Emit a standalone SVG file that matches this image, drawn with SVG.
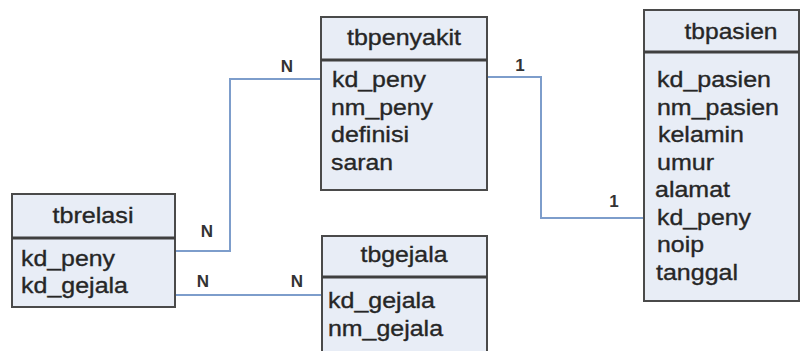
<svg xmlns="http://www.w3.org/2000/svg" width="801" height="351" viewBox="0 0 801 351">
  <style>
    .box { fill: #e8edf6; stroke: #4a4a4a; stroke-width: 2; }
    .div { stroke: #3f3f3f; stroke-width: 3; }
    .t { font-family: "Liberation Sans", Arial, sans-serif; font-size: 22.5px; fill: #262626; stroke: #262626; stroke-width: 0.35; }
    .title { text-anchor: middle; }
    .lbl { font-family: "Liberation Sans", Arial, sans-serif; font-size: 17px; font-weight: bold; fill: #333333; text-anchor: middle; }
    .link { fill: none; stroke: #7d9dcb; stroke-width: 2; }
  </style>
  <rect width="801" height="351" fill="#ffffff"/>

  <!-- relationship lines -->
  <g id="connectors">
    <polyline class="link" points="321,79 230,79 230,251 175,251"/>
    <polyline class="link" points="175,295 322,295"/>
    <polyline class="link" points="487,77 541,77 541,218 644,218"/>
    <text class="lbl" x="287" y="72">N</text>
    <text class="lbl" x="207" y="237">N</text>
    <text class="lbl" x="203" y="287">N</text>
    <text class="lbl" x="297" y="287">N</text>
    <text class="lbl" x="520" y="71">1</text>
    <text class="lbl" x="614" y="207">1</text>
  </g>

  <g id="tbpenyakit">
    <rect class="box" x="321" y="17" width="166" height="173"/>
    <line class="div" x1="321" y1="60" x2="487" y2="60"/>
    <text class="t title" x="404" y="45" textLength="114" lengthAdjust="spacingAndGlyphs">tbpenyakit</text>
    <text class="t" x="332" y="87" textLength="94" lengthAdjust="spacingAndGlyphs">kd_peny</text>
    <text class="t" x="331" y="115" textLength="102" lengthAdjust="spacingAndGlyphs">nm_peny</text>
    <text class="t" x="331" y="142" textLength="78" lengthAdjust="spacingAndGlyphs">definisi</text>
    <text class="t" x="331" y="170" textLength="62" lengthAdjust="spacingAndGlyphs">saran</text>
  </g>

  <g id="tbpasien">
    <rect class="box" x="644" y="10" width="155" height="291"/>
    <line class="div" x1="644" y1="52" x2="799" y2="52"/>
    <text class="t title" x="731" y="39" textLength="93" lengthAdjust="spacingAndGlyphs">tbpasien</text>
    <text class="t" x="657" y="87" textLength="114" lengthAdjust="spacingAndGlyphs">kd_pasien</text>
    <text class="t" x="657" y="115" textLength="122" lengthAdjust="spacingAndGlyphs">nm_pasien</text>
    <text class="t" x="658" y="142" textLength="86" lengthAdjust="spacingAndGlyphs">kelamin</text>
    <text class="t" x="657" y="170" textLength="57" lengthAdjust="spacingAndGlyphs">umur</text>
    <text class="t" x="655" y="197" textLength="75" lengthAdjust="spacingAndGlyphs">alamat</text>
    <text class="t" x="657" y="225" textLength="94" lengthAdjust="spacingAndGlyphs">kd_peny</text>
    <text class="t" x="657" y="252" textLength="47" lengthAdjust="spacingAndGlyphs">noip</text>
    <text class="t" x="656" y="280" textLength="82" lengthAdjust="spacingAndGlyphs">tanggal</text>
  </g>

  <g id="tbrelasi">
    <rect class="box" x="12" y="194" width="163" height="113"/>
    <line class="div" x1="12" y1="238" x2="175" y2="238"/>
    <text class="t title" x="93" y="223" textLength="81" lengthAdjust="spacingAndGlyphs">tbrelasi</text>
    <text class="t" x="21" y="266" textLength="94" lengthAdjust="spacingAndGlyphs">kd_peny</text>
    <text class="t" x="21" y="293" textLength="107" lengthAdjust="spacingAndGlyphs">kd_gejala</text>
  </g>

  <g id="tbgejala">
    <rect class="box" x="322" y="236" width="165" height="130"/>
    <line class="div" x1="322" y1="277" x2="487" y2="277"/>
    <text class="t title" x="404" y="262" textLength="87" lengthAdjust="spacingAndGlyphs">tbgejala</text>
    <text class="t" x="328" y="308" textLength="107" lengthAdjust="spacingAndGlyphs">kd_gejala</text>
    <text class="t" x="328" y="336" textLength="115" lengthAdjust="spacingAndGlyphs">nm_gejala</text>
  </g>
</svg>
